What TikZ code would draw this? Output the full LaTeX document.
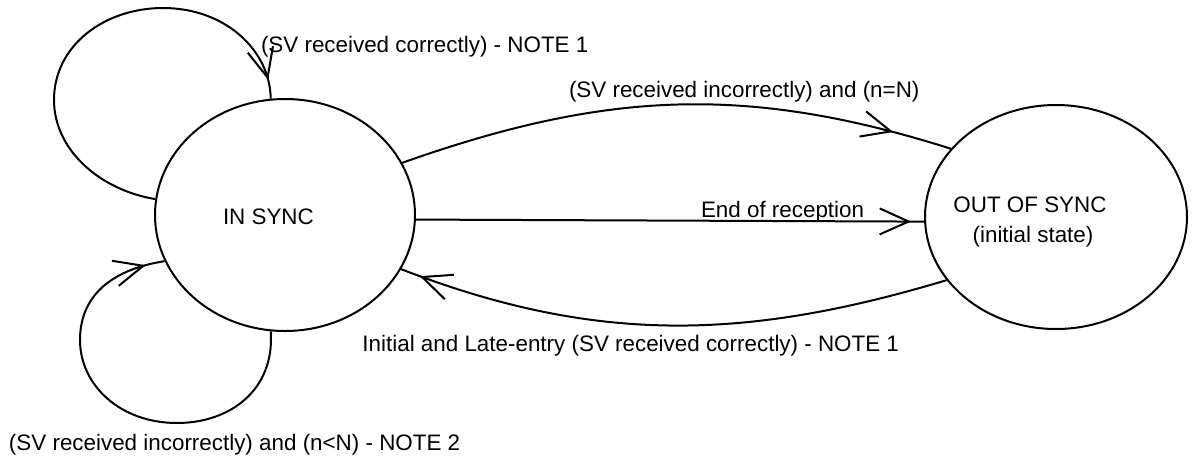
\documentclass[tikz,border=0pt]{standalone}
\usepackage{fontspec}
\setmainfont{Liberation Sans}
\usepackage{tikz}
\usetikzlibrary{arrows.meta,decorations.markings,shapes.geometric}

\begin{document}
\begin{tikzpicture}[x=0.5pt,y=-0.5pt,line width=1pt,
    state/.style={draw,ellipse,inner sep=0pt},
    lbl/.style={font=\fontsize{11.2}{15}\selectfont,inner sep=0pt},
    tipat/.style={postaction={decorate},decoration={markings,
      mark=at position #1 with {\arrow{Straight Barb[length=14.5pt,width=13pt]}}}}]
  \useasboundingbox (0,0) rectangle (1194,461);
  \node[state,minimum width=130pt,minimum height=116pt] (insync) at (285,215) {};
  \node[state,minimum width=131pt,minimum height=112pt] (outsync) at (1056,217) {};
  \node[lbl,anchor=base west] (insynctxt) at (222,224) {IN SYNC};
  \node[lbl,anchor=base] (outsynctxt) at (1030,212) {OUT OF SYNC};
  \node[lbl,anchor=base] (initialtxt) at (1033,242) {(initial state)};
  \draw[tipat=-6.5pt] (insync.-2.6) -- (outsync.182);
  \draw[tipat=-30pt] (insync.24.6) .. controls (605,91) and (746,84) .. (outsync.147.8);
  \draw[tipat=-10pt] (outsync.210.3) .. controls (747,340) and (597,345) .. (insync.-25.4);
  \draw[tipat=-9.5pt] (insync.173) .. controls (100,190) and (54,150) .. (54,100)
      .. controls (54,45) and (105,8) .. (163,8)
      .. controls (225,8) and (270,50) .. (insync.97.4);
  \draw[tipat=-9.7pt] (insync.263.7) .. controls (275,390) and (230,423) .. (177,423)
      .. controls (120,423) and (80,385) .. (80,340)
      .. controls (80,290) and (120,268) .. (insync.201.8);
  \node[lbl,anchor=base west] (toploop) at (260,52) {(SV received correctly) - NOTE 1};
  \node[lbl,anchor=base west] (toparc) at (568,97) {(SV received incorrectly) and (n=N)};
  \node[lbl,anchor=base west] (endrec) at (700,217) {End of reception};
  \node[lbl,anchor=base east] (botarc) at (900,351) {Initial and Late-entry (SV received correctly) - NOTE 1};
  \node[lbl,anchor=base west] (botloop) at (8,450) {(SV received incorrectly) and (n<N) - NOTE 2};
\end{tikzpicture}
\end{document}
